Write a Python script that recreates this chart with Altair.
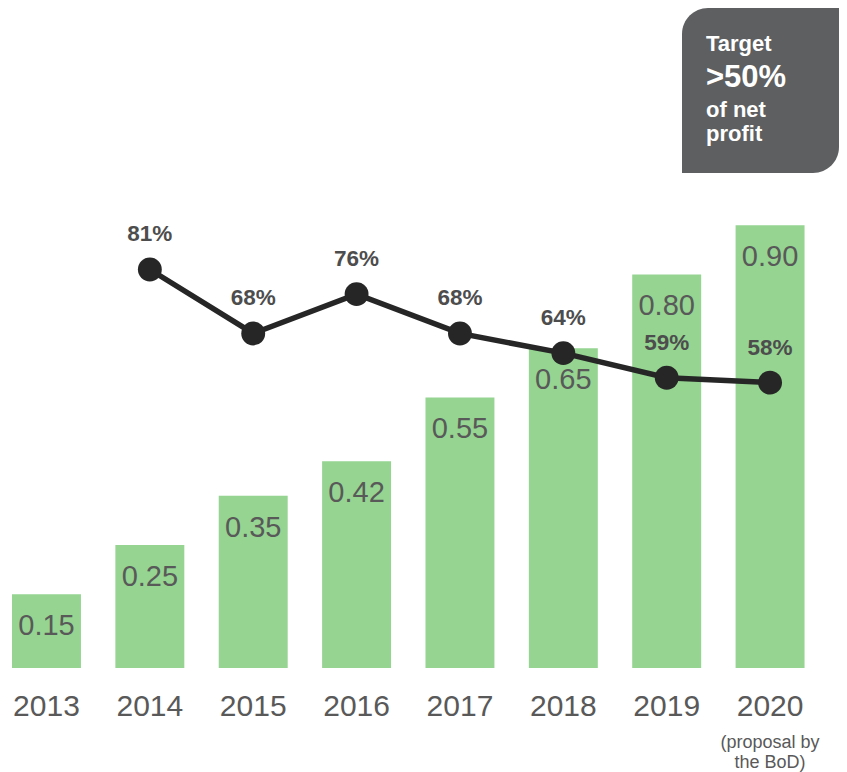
import altair as alt
import pandas as pd

years = ["2013", "2014", "2015", "2016", "2017", "2018", "2019", "2020"]
dps = [0.15, 0.25, 0.35, 0.42, 0.55, 0.65, 0.80, 0.90]
payout = [None, 0.81, 0.68, 0.76, 0.68, 0.64, 0.59, 0.58]
note_year = "2020"
note_text = "(proposal by\nthe BoD)"
box_lines = ["Target", ">50%", "of net", "profit"]

FONT = "Liberation Sans, Arial, Helvetica, sans-serif"
GREEN = "#95d491"
GREY_TXT = "#595959"
DARK = "#262626"
BOX = "#5e5f61"

df = pd.DataFrame({"year": years, "dps": dps, "payout": payout})
line_df = df.dropna(subset=["payout"])
note_df = pd.DataFrame({"year": [note_year], "v": [0.0], "t": [note_text]})

x = alt.X(
    "year:N",
    sort=years,
    scale=alt.Scale(paddingInner=0.333, paddingOuter=0.186, align=0.104),
    axis=alt.Axis(
        title=None, domain=False, ticks=False, grid=False, labelAngle=0,
        labelFontSize=30, labelFont=FONT, labelColor=GREY_TXT,
        labelPadding=23,
    ),
)
yscale = alt.Scale(domain=[0, 660 / 492], nice=False, zero=True)
y = alt.Y("dps:Q", scale=yscale, axis=None)

base = alt.Chart(df)

bars = base.mark_bar(color=GREEN).encode(x=x, y=y)
bar_labels = base.mark_text(
    font=FONT, fontSize=29, color=GREY_TXT, baseline="middle", dy=32
).encode(x=x, y=y, text=alt.Text("dps:Q", format=".2f"))

ly = alt.Y("payout:Q", scale=yscale, axis=None)
line = alt.Chart(line_df).mark_line(color=DARK, strokeWidth=5.5).encode(x=x, y=ly)
pts = alt.Chart(line_df).mark_point(
    shape="circle", filled=True, size=570, color=DARK, opacity=1
).encode(x=x, y=ly)
pct = alt.Chart(line_df).mark_text(
    font=FONT, fontSize=22.5, fontWeight="bold", color="#4d4d4d",
    baseline="middle", dy=-35
).encode(x=x, y=ly, text=alt.Text("payout:Q", format=".0%"))

note = alt.Chart(note_df).mark_text(
    font=FONT, fontSize=18, color=GREY_TXT, baseline="top", align="center",
    dy=66, lineBreak="\n", lineHeight=20
).encode(x=x, y=alt.Y("v:Q", scale=yscale, axis=None), text="t:N")

box = alt.Chart(note_df).mark_rect(
    color=BOX, cornerRadiusTopLeft=26, cornerRadiusBottomRight=26
).encode(
    x=alt.value(674), x2=alt.value(831), y=alt.value(0), y2=alt.value(165)
)

box_sizes = [22, 31, 22, 22]
box_y = [43, 79, 109, 133]
box_texts = []
for t, fs, yy in zip(box_lines, box_sizes, box_y):
    box_texts.append(
        alt.Chart(note_df).mark_text(
            font=FONT, fontSize=fs, fontWeight="bold", color="white",
            align="left", baseline="alphabetic"
        ).encode(x=alt.value(698), y=alt.value(yy), text=alt.value(t))
    )

chart = alt.layer(bars, bar_labels, line, pts, pct, note, box, *box_texts).properties(
    width=831, height=660, padding=0
).configure(background="white").configure_view(stroke=None, strokeWidth=0)

chart.save("out.html", embed_options={"renderer": "svg", "actions": False})
